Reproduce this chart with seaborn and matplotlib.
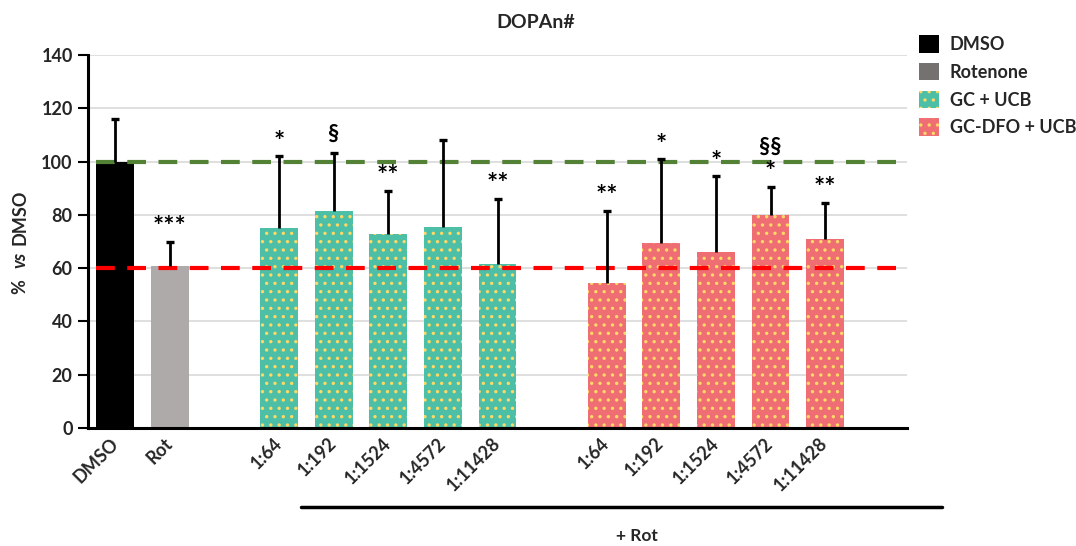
import matplotlib
matplotlib.use("Agg")
import matplotlib.pyplot as plt
from matplotlib.patches import Patch
from matplotlib.lines import Line2D
import numpy as np
import pandas as pd
import seaborn as sns

# ---- data -------------------------------------------------------------
ctrl_labels = ["DMSO", "Rot"]
ctrl_mean = [100.0, 60.7]
ctrl_sd = [16.0, 9.3]
ctrl_marks = ["", "***"]

dilutions = ["1:64", "1:192", "1:1524", "1:4572", "1:11428"]

gc_mean = [74.9, 81.5, 73.0, 75.3, 61.4]
gc_sd = [27.1, 21.6, 16.0, 32.8, 24.7]
gc_marks = ["*", "§", "**", "", "**"]

dfo_mean = [54.6, 69.3, 65.9, 79.8, 70.8]
dfo_sd = [27.0, 31.5, 28.6, 10.7, 13.6]
dfo_marks = ["**", "*", "*", "*", "**"]
dfo_marks2 = ["", "", "", "§§", ""]

dmso_ref = 100.0
rot_ref = 60.0

# ---- table ------------------------------------------------------------
rows = []
for lab, m, s, k in zip(ctrl_labels, ctrl_mean, ctrl_sd, ctrl_marks):
    rows.append(dict(key=lab, label=lab, group=lab, mean=m, sd=s, mark=k, mark2=""))
for lab, m, s, k in zip(dilutions, gc_mean, gc_sd, gc_marks):
    rows.append(dict(key="GC " + lab, label=lab, group="GC + UCB", mean=m, sd=s, mark=k, mark2=""))
for lab, m, s, k, k2 in zip(dilutions, dfo_mean, dfo_sd, dfo_marks, dfo_marks2):
    rows.append(dict(key="DFO " + lab, label=lab, group="GC-DFO + UCB", mean=m, sd=s, mark=k, mark2=k2))
df = pd.DataFrame(rows)

# category order with empty slots between the groups
order = (["DMSO", "Rot", " gap1"] + ["GC " + d for d in dilutions] + [" gap2"]
         + ["DFO " + d for d in dilutions] + [" gap3"])
tick_text = {r.key: r.label for r in df.itertuples()}

palette = {"DMSO": "#000000", "Rot": "#AEAAAA",
           "GC + UCB": "#4CBFA6", "GC-DFO + UCB": "#EE6E74"}
dotted_groups = ("#4cbfa6", "#ee6e74")
dot_color = "#FFD966"

# ---- style ------------------------------------------------------------
sns.set_theme(style="white")
plt.rcParams["font.family"] = ["Lato", "DejaVu Sans"]
plt.rcParams["font.weight"] = "bold"
plt.rcParams["hatch.linewidth"] = 1.2

fig = plt.figure(figsize=(10.76, 5.46), dpi=100)
ax = fig.add_axes([88 / 1076, 1 - 428 / 546, (907 - 88) / 1076, (428 - 55) / 546])

sns.barplot(data=df, x="key", y="mean", hue="group", order=order,
            palette=palette, width=0.69, errorbar=None, legend=False,
            saturation=1, ax=ax, zorder=2)

# dotted fill on the treatment bars
for bar in ax.patches:
    fc = bar.get_facecolor()
    if matplotlib.colors.to_hex(fc).lower() in dotted_groups:
        bar.set_hatch("..")
        bar.set_edgecolor(dot_color)
    else:
        bar.set_edgecolor(fc)
    bar.set_linewidth(0)

# upward error bars (cap only at the upper end)
pos = np.array([order.index(k) for k in df["key"]])
eb = ax.errorbar(pos, df["mean"], yerr=[np.zeros(len(df)), df["sd"]], fmt="none",
                 ecolor="black", elinewidth=2, capsize=3.2, capthick=2.4, zorder=4)
for cap in eb[1]:
    if np.allclose(cap.get_ydata(), df["mean"].to_numpy()):
        cap.set_visible(False)


def mark_size(s):
    return 16 if "§" in s else 19


# significance marks
for x, m, s, k, k2 in zip(pos, df["mean"], df["sd"], df["mark"], df["mark2"]):
    top = m + s
    if k:
        ax.text(x, top + (3.0 if "§" in k else 1.0), k, ha="center", va="bottom",
                fontsize=mark_size(k), fontweight="bold", color="black", zorder=5)
    if k2:
        ax.text(x, top + 11.0, k2, ha="center", va="bottom",
                fontsize=mark_size(k2), fontweight="bold", color="black", zorder=5)

# reference lines for DMSO and rotenone levels
ax.axhline(dmso_ref, color="#538135", lw=3, ls=(0, (4.5, 3)), xmin=0.01, zorder=3)
ax.axhline(rot_ref, color="#FF0000", lw=3, ls=(0, (4.5, 3)), xmin=0.01, zorder=3)

# axes
ax.set_xlim(-0.5, len(order) - 0.5)
ax.set_ylim(0, 140)
ax.set_yticks(np.arange(0, 141, 20))
ax.yaxis.grid(True, color="#D9D9D9", lw=1.2, zorder=0)
ax.set_axisbelow(True)
ax.set_xticks(range(len(order)))
ax.set_xticklabels([tick_text.get(k, "") for k in order], rotation=45,
                   ha="right", va="center", rotation_mode="anchor",
                   fontsize=13, fontweight="bold")
ax.tick_params(axis="x", length=0, pad=9)
ax.tick_params(axis="y", left=True, length=7, width=1.5, color="black",
               labelsize=13, pad=4)
for t in ax.get_yticklabels():
    t.set_fontweight("bold")
for side in ("top", "right"):
    ax.spines[side].set_visible(False)
for side in ("left", "bottom"):
    ax.spines[side].set_color("black")
    ax.spines[side].set_linewidth(2.2)
ax.set_xlabel("")
ax.set_ylabel("")

# title
fig.text(536 / 1076, 1 - 22 / 546, "DOPAn#", ha="center", va="center",
         fontsize=14, fontweight="bold")

# y label: "%  vs DMSO" with italic "vs"
yl_x = 20 / 1076
fig.text(yl_x, 1 - 294 / 546, "%", rotation=90, ha="center", va="bottom",
         fontsize=13, fontweight="bold")
fig.text(yl_x, 1 - 268 / 546, "vs", rotation=90, ha="center", va="bottom",
         fontsize=13, fontweight="bold", style="italic")
fig.text(yl_x, 1 - 245 / 546, "DMSO", rotation=90, ha="center", va="bottom",
         fontsize=13, fontweight="bold")

# "+ Rot" bracket under the treated groups
fig.add_artist(Line2D([301 / 1076, 942 / 1076], [1 - 507 / 546, 1 - 507 / 546],
                      color="black", lw=2.5))
fig.text(637 / 1076, 1 - 536 / 546, "+ Rot", ha="center", va="center",
         fontsize=12.5, fontweight="bold")

# legend
handles = [
    Patch(facecolor="#000000", edgecolor="#000000", lw=0),
    Patch(facecolor="#767171", edgecolor="#767171", lw=0),
    Patch(facecolor=palette["GC + UCB"], edgecolor=dot_color, hatch="..", lw=0),
    Patch(facecolor=palette["GC-DFO + UCB"], edgecolor=dot_color, hatch="..", lw=0),
]
leg = fig.legend(handles, ["DMSO", "Rotenone", "GC + UCB", "GC-DFO + UCB"],
                 loc="upper left", bbox_to_anchor=(912 / 1076, 1 - 28 / 546),
                 frameon=False, fontsize=13, handlelength=1.1, handleheight=1.1,
                 handletextpad=0.6, labelspacing=0.55, borderaxespad=0)
for t in leg.get_texts():
    t.set_fontweight("bold")

fig.savefig("out.png", dpi=100)
